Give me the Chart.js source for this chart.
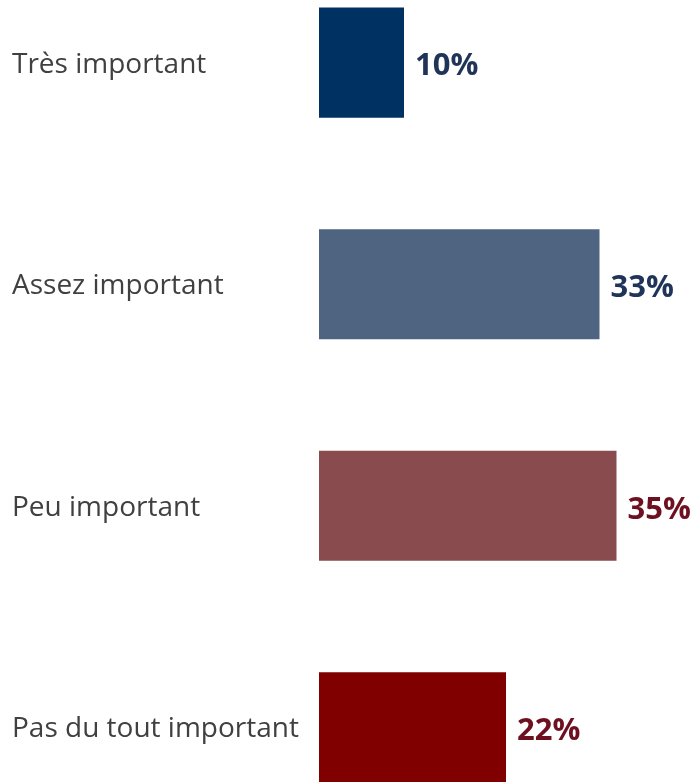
<!DOCTYPE html>
<html><head><meta charset="utf-8">
<script src="https://cdn.jsdelivr.net/npm/chart.js@4"></script>
<style>
html,body{margin:0;padding:0;background:#fff;overflow:hidden;width:693px;height:782px;}
#wrap{position:absolute;left:0;top:-65px;width:693px;height:920px;}
</style></head><body>
<div id="wrap"><canvas id="c" width="693" height="920"></canvas></div>
<script>
const categories = ["Très important", "Assez important", "Peu important", "Pas du tout important"];
const values = [10, 33, 35, 22];
const barColors = ["#003163", "#4E6480", "#8A4B4E", "#800000"];
const labelColors = ["#1F3458", "#1F3458", "#6E1020", "#6E1020"];

const valueLabels = {
  id: 'valueLabels',
  afterDatasetsDraw(chart) {
    const ctx = chart.ctx;
    const meta = chart.getDatasetMeta(0);
    ctx.save();
    ctx.font = "bold 31px 'Open Sans'";
    ctx.textBaseline = 'middle';
    ctx.textAlign = 'left';
    meta.data.forEach((bar, i) => {
      ctx.fillStyle = labelColors[i];
      ctx.fillText(values[i] + '%', bar.x + 11, bar.y + 4);
    });
    ctx.restore();
  }
};

new Chart(document.getElementById('c'), {
  type: 'bar',
  data: {
    labels: categories,
    datasets: [{
      data: values,
      backgroundColor: barColors,
      categoryPercentage: 1,
      barPercentage: 0.497
    }]
  },
  options: {
    indexAxis: 'y',
    responsive: false,
    animation: false,
    layout: { padding: { left: 12, right: 0, top: 0, bottom: 0 } },
    plugins: { legend: { display: false }, tooltip: { enabled: false } },
    scales: {
      x: { display: false, min: 0, max: 44 },
      y: {
        grid: { display: false },
        border: { display: false },
        ticks: {
          crossAlign: 'far',
          color: '#404040',
          font: { family: "'Open Sans'", size: 28 },
          padding: 0,
          labelOffset: 2
        },
        afterFit(scale) { scale.width = 307; }
      }
    }
  },
  plugins: [valueLabels]
});
</script>
</body></html>
